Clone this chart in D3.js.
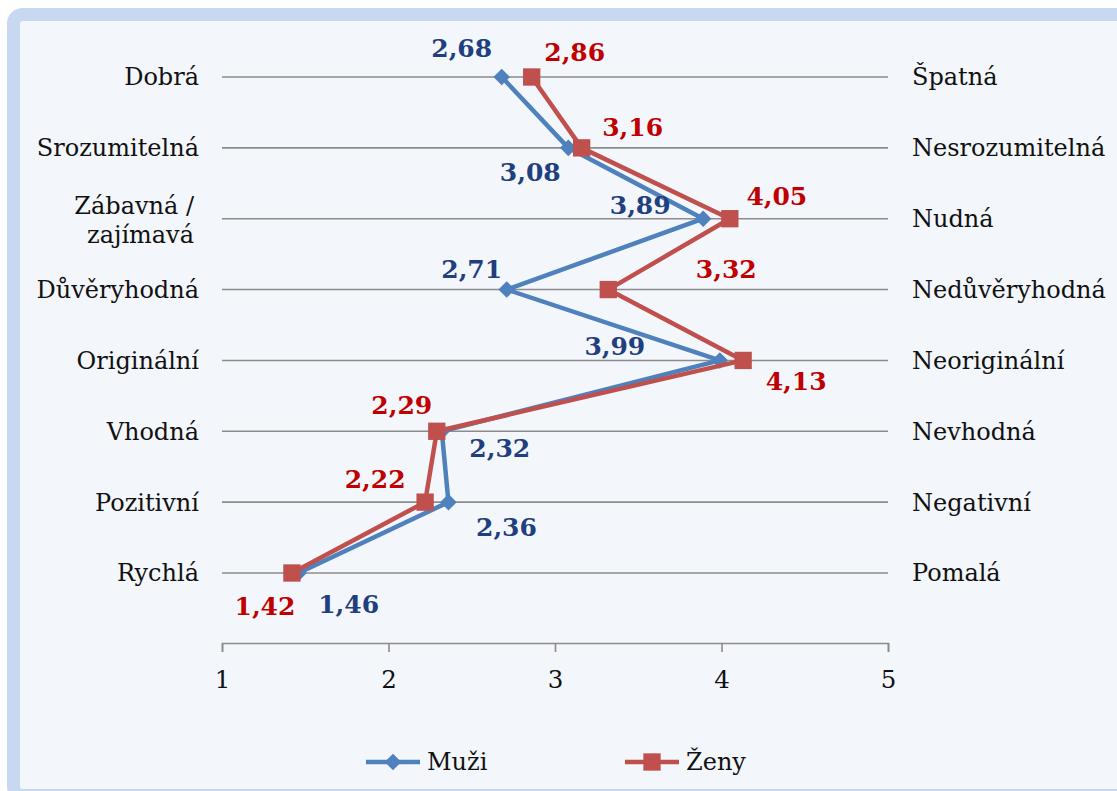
<!DOCTYPE html>
<html>
<head>
<meta charset="utf-8">
<script src="https://cdn.jsdelivr.net/npm/d3@7"></script>
<style>
  html, body { margin: 0; padding: 0; background: #ffffff; }
  svg { display: block; }
  text { font-family: "DejaVu Serif", "Liberation Serif", serif; }
</style>
</head>
<body>
<svg id="chart" width="1117" height="791"></svg>
<script>
// Semantic-differential profile: left pole / right pole per row
const leftPoles  = ["Dobrá", "Srozumitelná", "Zábavná /\nzajímavá", "Důvěryhodná", "Originální", "Vhodná", "Pozitivní", "Rychlá"];
const rightPoles = ["Špatná", "Nesrozumitelná", "Nudná", "Nedůvěryhodná", "Neoriginální", "Nevhodná", "Negativní", "Pomalá"];
const muzi = [2.68, 3.08, 3.89, 2.71, 3.99, 2.32, 2.36, 1.46];
const zeny = [2.86, 3.16, 4.05, 3.32, 4.13, 2.29, 2.22, 1.42];
const xTicks = [1, 2, 3, 4, 5];
const seriesNames = ["Muži", "Ženy"];

// Label placement (offset from its point) for each series
const muziLabelOffset = [[-40,-29],[-38,24],[-63,-13],[-35,-20],[-105,-14],[58,17],[58,25],[50,31]];
const zenyLabelOffset = [[43,-25],[51,-21],[47,-22],[118,-20],[53,21],[-35,-26],[-50,-23],[-27,33]];

const svg = d3.select("#chart");

// Frame
svg.append("rect")
  .attr("x", 13.5).attr("y", 14.5)
  .attr("width", 1130).attr("height", 781)
  .attr("rx", 9)
  .attr("fill", "#f3f6fb")
  .attr("stroke", "#c6d9f0")
  .attr("stroke-width", 13);

const x = d3.scaleLinear().domain([1, 5]).range([222, 888]);
const rowIdx = d3.range(leftPoles.length);
const y = d3.scalePoint().domain(rowIdx).range([77, 573]);

// Row lines
svg.append("g").selectAll("line")
  .data(rowIdx).join("line")
  .attr("x1", x(1)).attr("x2", x(5))
  .attr("y1", d => y(d)).attr("y2", d => y(d))
  .attr("stroke", "#8c8c8c").attr("stroke-width", 1.6);

// Bottom value axis
const axisY = 643;
const axis = d3.axisBottom(x).tickValues(xTicks).tickSize(9).tickPadding(19)
  .tickFormat(d3.format("d"));
const gAxis = svg.append("g").attr("transform", `translate(0,${axisY})`).call(axis);
gAxis.select(".domain").attr("stroke", "#8c8c8c").attr("stroke-width", 1.6);
gAxis.selectAll(".tick line").attr("stroke", "#8c8c8c").attr("stroke-width", 1.6);
gAxis.selectAll(".tick text")
  .attr("fill", "#111").attr("font-size", 24.5)
  .attr("font-family", "DejaVu Serif, serif");

// Left pole labels
const leftG = svg.append("g");
rowIdx.forEach(i => {
  const lines = leftPoles[i].split("\n");
  const t = leftG.append("text")
    .attr("text-anchor", "end")
    .attr("font-size", 24)
    .attr("fill", "#111");
  if (lines.length === 1) {
    t.attr("x", 199).attr("y", y(i)).attr("dy", "0.35em").text(lines[0]);
  } else {
    lines.forEach((ln, k) => {
      t.append("tspan").attr("x", 194)
        .attr("y", y(i) + (k === 0 ? -13 : 16))
        .attr("dy", "0.35em").text(ln);
    });
  }
});

// Right pole labels
svg.append("g").selectAll("text")
  .data(rowIdx).join("text")
  .attr("x", 912).attr("y", d => y(d)).attr("dy", "0.35em")
  .attr("font-size", 24).attr("fill", "#111")
  .text(d => rightPoles[d]);

const line = d3.line().x(d => x(d[0])).y(d => y(d[1]));

function markerPath(kind) {
  return d3.symbol()
    .type(kind === "square" ? d3.symbolSquare : d3.symbolDiamond2)
    .size(kind === "square" ? 300 : 175)();
}

function drawSeries(values, color, marker) {
  const pts = values.map((v, i) => [v, i]);
  svg.append("path")
    .datum(pts)
    .attr("d", line)
    .attr("fill", "none")
    .attr("stroke", color)
    .attr("stroke-width", 4.5)
    .attr("stroke-linejoin", "round");
  svg.append("g").selectAll("path")
    .data(pts).join("path")
    .attr("transform", d => `translate(${x(d[0])},${y(d[1])})`)
    .attr("d", markerPath(marker))
    .attr("fill", color);
}

drawSeries(muzi, "#4f81bd", "diamond");
drawSeries(zeny, "#c0504d", "square");

const fmt = v => d3.format(".2f")(v).replace(".", ",");

function drawLabels(values, offsets, color) {
  svg.append("g").selectAll("text")
    .data(values).join("text")
    .attr("x", (v, i) => x(v) + offsets[i][0])
    .attr("y", (v, i) => y(i) + offsets[i][1])
    .attr("dy", "0.35em")
    .attr("text-anchor", "middle")
    .attr("font-size", 25)
    .attr("font-weight", "bold")
    .attr("fill", color)
    .text(v => fmt(v));
}
drawLabels(muzi, muziLabelOffset, "#1f3f7f");
drawLabels(zeny, zenyLabelOffset, "#c00000");

// Legend
const legendY = 762;
const legendItems = [
  { name: seriesNames[0], color: "#4f81bd", marker: "diamond", x0: 366 },
  { name: seriesNames[1], color: "#c0504d", marker: "square", x0: 625 }
];
legendItems.forEach(it => {
  const g = svg.append("g");
  g.append("line")
    .attr("x1", it.x0).attr("x2", it.x0 + 54)
    .attr("y1", legendY).attr("y2", legendY)
    .attr("stroke", it.color).attr("stroke-width", 4.5);
  g.append("path")
    .attr("transform", `translate(${it.x0 + 27},${legendY})`)
    .attr("d", markerPath(it.marker)).attr("fill", it.color);
  g.append("text")
    .attr("x", it.x0 + 61).attr("y", legendY).attr("dy", "0.35em")
    .attr("font-size", 24).attr("fill", "#111")
    .text(it.name);
});
</script>
</body>
</html>
